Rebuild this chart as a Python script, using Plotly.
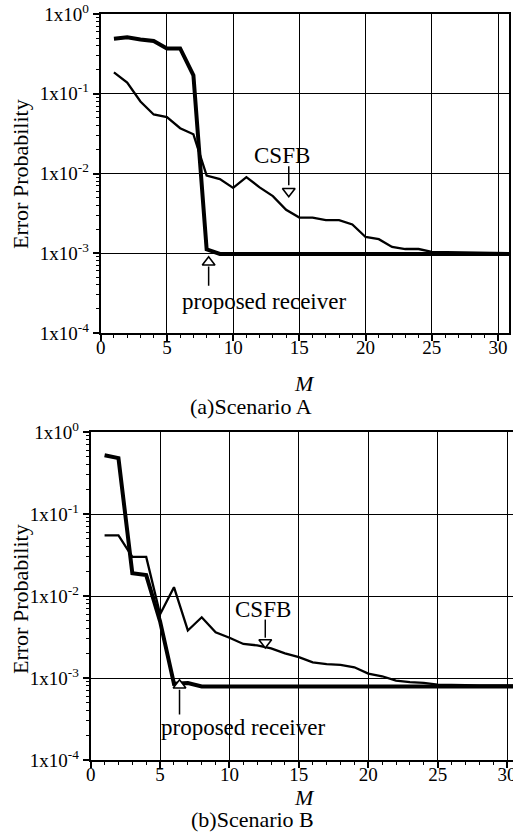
import math
import plotly.graph_objects as go

# ---------------- data ----------------
M = list(range(1, 32))

# Scenario A
prop_A = [0.49, 0.51, 0.48, 0.46, 0.37, 0.37, 0.17, 0.00112, 0.00098, 0.00098,
          0.00098, 0.00098, 0.00098, 0.00098, 0.00098, 0.00098, 0.00098, 0.00098,
          0.00098, 0.00098, 0.00098, 0.00098, 0.00098, 0.00098, 0.00098, 0.00098,
          0.00098, 0.00098, 0.00098, 0.00098, 0.00098]
csfb_A = [0.185, 0.138, 0.08, 0.055, 0.051, 0.037, 0.031, 0.0094, 0.0085, 0.0066,
          0.0090, 0.0067, 0.0052, 0.0035, 0.0028, 0.0028, 0.0026, 0.0026, 0.0023,
          0.0016, 0.0015, 0.0012, 0.00113, 0.00113, 0.00104, 0.00103, 0.00102,
          0.00101, 0.001, 0.001, 0.001]

# Scenario B
prop_B = [0.52, 0.48, 0.019, 0.018, 0.0049, 0.00085, 0.00087, 0.00079, 0.00079,
          0.00079, 0.00079, 0.00079, 0.00079, 0.00079, 0.00079, 0.00079, 0.00079,
          0.00079, 0.00079, 0.00079, 0.00079, 0.00079, 0.00079, 0.00079, 0.00079,
          0.00079, 0.00079, 0.00079, 0.00079, 0.00079, 0.00079]
csfb_B = [0.055, 0.055, 0.030, 0.030, 0.0060, 0.0128, 0.0038, 0.0055, 0.0036,
          0.0031, 0.0026, 0.0025, 0.0023, 0.0020, 0.0018, 0.00155, 0.00148,
          0.00145, 0.00135, 0.00113, 0.00105, 0.00093, 0.00089, 0.00087, 0.00083,
          0.00082, 0.00082, 0.00081, 0.00081, 0.00081, 0.00081]

y_tickvals = [1e-4, 1e-3, 1e-2, 1e-1, 1]
y_ticktext = ["1x10<sup>-4</sup>", "1x10<sup>-3</sup>", "1x10<sup>-2</sup>",
              "1x10<sup>-1</sup>", "1x10<sup>0</sup>"]
x_tickvals = [0, 5, 10, 15, 20, 25, 30]

# annotation anchors: (M, value)
csfb_label_A = (13.7, 0.0170)
csfb_arrow_A = (14.2, 0.0123, 0.0071, 0.0060)   # x, tail, stem end, triangle centre
prop_label_A = (12.3, 0.000250)
prop_arrow_A = (8.15, 0.00039, 0.00068, 0.00077)

csfb_label_B = (12.45, 0.0068)
csfb_arrow_B = (12.58, 0.00516, 0.0031, 0.00271)
prop_label_B = (11.0, 0.000250)
prop_arrow_B = (6.40, 0.00036, 0.00072, 0.000815)

FONT = "Liberation Serif"
W, H = 513, 839

fig = go.Figure()

def add_panel(xa, ya, prop, csfb, csfb_lbl, csfb_arr, prop_lbl, prop_arr):
    fig.add_trace(go.Scatter(x=M, y=csfb, mode="lines", xaxis=xa, yaxis=ya,
                             line=dict(color="black", width=2.3), showlegend=False))
    fig.add_trace(go.Scatter(x=M, y=prop, mode="lines", xaxis=xa, yaxis=ya,
                             line=dict(color="black", width=4), showlegend=False))
    # CSFB arrow (pointing down)
    x, tail, stem, tri = csfb_arr
    fig.add_trace(go.Scatter(x=[x, x], y=[tail, stem], mode="lines", xaxis=xa, yaxis=ya,
                             line=dict(color="black", width=1.5), showlegend=False))
    fig.add_trace(go.Scatter(x=[x], y=[tri], mode="markers", xaxis=xa, yaxis=ya,
                             marker=dict(symbol="triangle-down", size=11, color="white",
                                         line=dict(color="black", width=1.6)),
                             showlegend=False))
    # proposed arrow (pointing up)
    x, tail, stem, tri = prop_arr
    fig.add_trace(go.Scatter(x=[x, x], y=[tail, stem], mode="lines", xaxis=xa, yaxis=ya,
                             line=dict(color="black", width=1.5), showlegend=False))
    fig.add_trace(go.Scatter(x=[x], y=[tri], mode="markers", xaxis=xa, yaxis=ya,
                             marker=dict(symbol="triangle-up", size=11, color="white",
                                         line=dict(color="black", width=1.6)),
                             showlegend=False))
    fig.add_annotation(x=csfb_lbl[0], y=math.log10(csfb_lbl[1]), xref=xa, yref=ya,
                       text="CSFB", showarrow=False,
                       font=dict(family=FONT, size=23, color="black"))
    fig.add_annotation(x=prop_lbl[0], y=math.log10(prop_lbl[1]), xref=xa, yref=ya,
                       text="proposed receiver", showarrow=False,
                       font=dict(family=FONT, size=23, color="black"))

add_panel("x", "y", prop_A, csfb_A, csfb_label_A, csfb_arrow_A, prop_label_A, prop_arrow_A)
add_panel("x2", "y2", prop_B, csfb_B, csfb_label_B, csfb_arrow_B, prop_label_B, prop_arrow_B)

minor_y = [m * 10 ** e for e in range(-4, 0) for m in range(2, 10)]

def xaxis(domain, rng, mirror, anchor):
    return dict(domain=domain, range=rng, anchor=anchor, automargin=False,
                tickvals=x_tickvals, showgrid=True,
                gridcolor="black", gridwidth=1, zeroline=False,
                showline=True, linecolor="black", linewidth=2, mirror=mirror,
                ticks="outside", ticklen=6, tickwidth=1.5, tickcolor="black",
                ticklabeloverflow="allow", ticklabelstandoff=-10,
                minor=dict(dtick=1, ticks="outside", ticklen=3, tickcolor="black",
                           tickwidth=1, showgrid=False),
                tickfont=dict(family=FONT, size=19, color="black"))

def yaxis(domain, anchor, mirror):
    return dict(domain=domain, type="log", range=[-4, 0], anchor=anchor,
                automargin=False,
                tickvals=y_tickvals, ticktext=y_ticktext, showgrid=True,
                gridcolor="black", gridwidth=1, zeroline=False,
                showline=True, linecolor="black", linewidth=2, mirror=mirror,
                ticks="outside", ticklen=6, tickwidth=1.5, tickcolor="black",
                ticklabeloverflow="allow",
                minor=dict(tickvals=minor_y, ticks="outside", ticklen=3,
                           tickcolor="black", tickwidth=1, showgrid=False),
                tickfont=dict(family=FONT, size=19, color="black"))

def px_x(p):
    return p / W

def px_y(p):
    return 1 - p / H

fig.update_layout(
    width=W, height=H,
    margin=dict(l=0, r=0, t=0, b=0, autoexpand=False),
    paper_bgcolor="white", plot_bgcolor="white",
    xaxis=xaxis([px_x(100.7), px_x(509)], [0, 30.83], True, "y"),
    yaxis=yaxis([px_y(333), px_y(14)], "x", True),
    xaxis2=xaxis([px_x(90.7), 1.0], [0, 30.43], True, "y2"),
    yaxis2=yaxis([px_y(760), px_y(432)], "x2", False),
)

# paper-level titles
paper_texts = [
    ("Error Probability", 20, 174, 22, -90),
    ("<i>M</i>", 304, 383, 22, 0),
    ("(a)Scenario A", 251, 406, 22, 0),
    ("Error Probability", 20, 599, 22, -90),
    ("<i>M</i>", 304, 797, 22, 0),
    ("(b)Scenario B", 252, 819, 22, 0),
]
for txt, px, py, size, ang in paper_texts:
    fig.add_annotation(x=px_x(px), y=px_y(py), xref="paper", yref="paper",
                       text=txt, showarrow=False, textangle=ang,
                       xanchor="center", yanchor="middle",
                       font=dict(family=FONT, size=size, color="black"))

fig.write_html("out.html", config={"displayModeBar": False},
               post_script="document.body.style.margin='0px';"
                           "document.body.style.overflow='hidden';")
